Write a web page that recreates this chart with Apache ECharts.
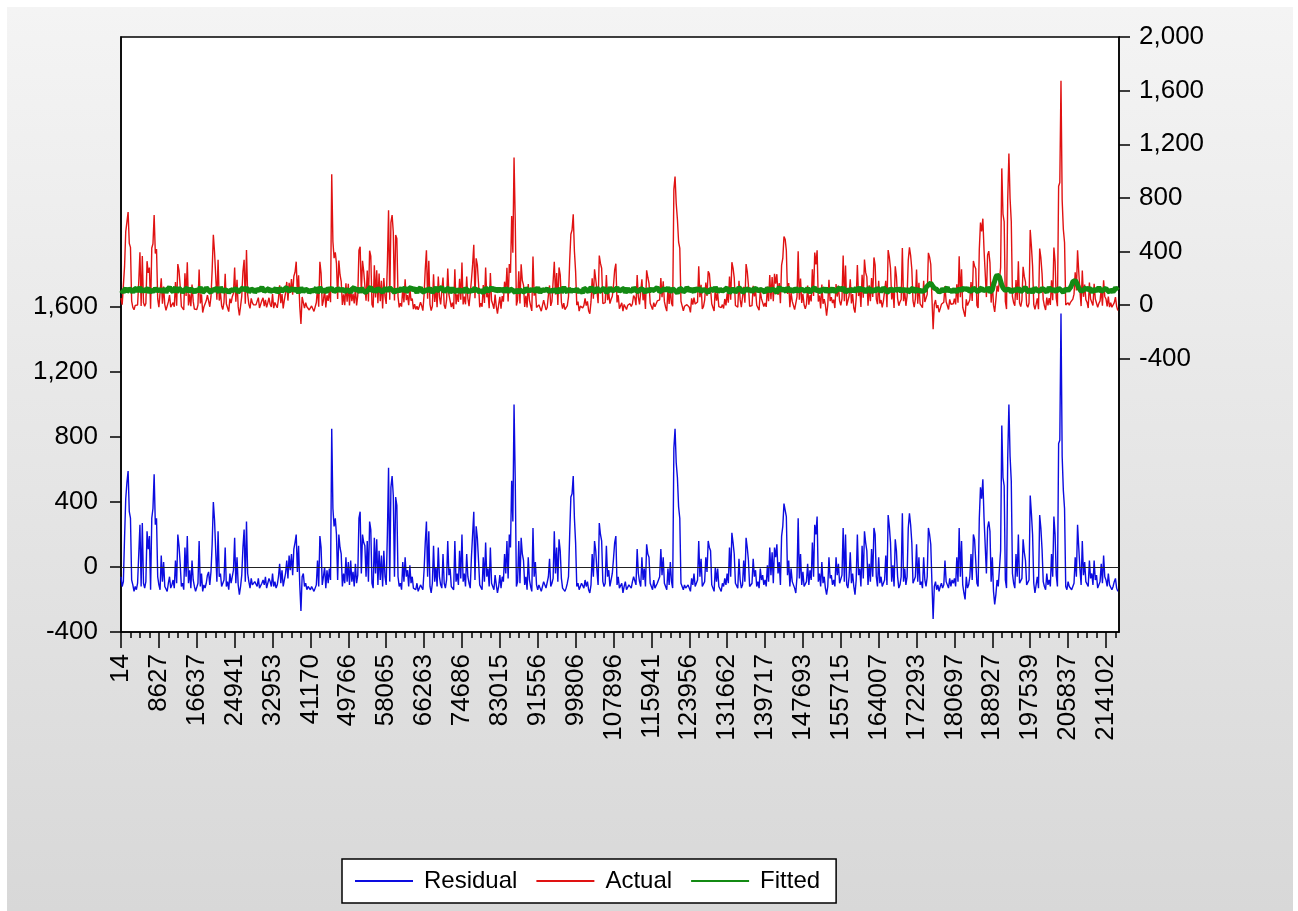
<!DOCTYPE html>
<html>
<head>
<meta charset="utf-8">
<script src="https://cdn.jsdelivr.net/npm/echarts@6/dist/echarts.min.js"></script>
<style>
  html, body { margin: 0; padding: 0; background: #ffffff; }
  #frame { position: absolute; left: 7px; top: 7px; width: 1286px; height: 904px;
           background: linear-gradient(#f4f4f4, #d8d8d8); }
  #chart { position: absolute; left: 0; top: 0; width: 1298px; height: 911px; }
</style>
</head>
<body>
<div id="frame"></div>
<div id="chart"></div>
<script>
// Observation numbers printed under the labelled ticks
const obsLabels = ['14','8627','16637','24941','32953','41170','49766','58065','66263',
  '74686','83015','91556','99806','107896','115941','123956','131662','139717','147693',
  '155715','164007','172293','180697','188927','197539','205837','214102'];

// Residuals (left scale), 32 plotted observations per labelled tick
const residual = [
  -60,-120,-90,180,420,520,590,340,300,-80,-110,-150,-120,-140,-100,80,260,-120,270,-100,-130,-90,220,110,190,-140,300,360,570,260,300,-60,
  -110,-140,70,-90,30,-120,-130,-150,-100,-60,-130,-110,-80,-130,40,-100,200,130,20,-120,-100,-140,120,-60,190,-100,-20,-130,40,-80,-120,-150,
  -160,-100,160,-120,-40,-150,-110,-130,-100,-50,-30,-110,-30,140,400,290,300,-90,220,-60,-40,-120,-130,-80,120,-120,-90,-140,-40,-100,-60,-20,
  180,-100,60,-110,-170,-120,-50,120,230,-90,280,-40,-90,-130,-70,-110,-110,-90,-90,-120,-70,-130,-120,-100,-80,-110,-60,-130,-100,-70,-90,-120,
  -40,-120,-90,-130,-110,-60,20,-100,-20,-120,-80,-40,40,-70,70,-20,80,-50,110,150,200,-30,130,-110,-270,-60,-40,-120,-100,-140,-120,-130,
  -140,-120,-130,-150,-150,-110,40,-120,190,120,-110,-60,0,-130,-20,-100,-10,-80,850,360,250,300,200,-80,200,120,80,-120,-40,-100,60,-90,
  30,-110,40,-90,-30,-120,20,-100,-50,300,340,-40,200,150,130,-60,160,-90,280,230,-100,-130,180,-40,170,-110,100,-80,70,-120,100,-60,
  -110,200,610,-90,490,560,440,-60,430,380,-60,-120,-100,-140,30,-90,60,-60,-20,-120,10,-100,-60,-130,-120,-140,-100,-150,-130,-110,-110,-140,
  -20,150,280,-60,220,-120,-160,-100,130,-90,0,-120,120,-60,-110,-130,80,-100,-130,-80,160,-50,-10,-120,-110,-140,160,-90,-40,-110,100,-70,
  200,-90,-40,-120,80,-60,-100,-130,60,200,340,-80,250,180,40,-110,-100,-140,60,-90,150,-60,-10,-120,120,-100,-100,-140,-50,-110,-160,-120,
  -50,-130,-60,-90,80,-40,160,-70,200,120,530,280,1000,540,-120,-90,160,-100,180,80,40,-110,-60,-140,60,-80,-120,-150,240,-60,30,-110,
  -140,-110,-100,-150,-120,-90,-80,-130,-140,-60,50,-120,-100,-70,220,-40,120,-90,170,100,-70,-130,-120,-150,-130,-100,-60,200,430,450,560,300,
  150,-120,-100,-140,-120,-100,-110,-130,-80,-120,-90,-140,-160,-110,80,-60,160,100,-20,-110,270,200,160,-90,-120,-100,130,-60,-20,-120,-80,-40,
  50,150,190,-110,-60,-130,-140,-100,-160,-120,-90,-140,-130,-110,-100,-130,-90,-60,-70,-110,110,-40,-90,-120,60,-80,-10,-120,140,80,60,-100,
  -120,-140,-80,-130,-120,-100,-100,-60,110,-50,60,-100,-120,-140,-10,-110,30,-90,-130,730,850,640,550,370,300,-100,-120,-140,-110,-130,-130,-110,
  -120,-150,-70,-110,-40,-120,-110,-80,160,-60,50,-120,-130,-90,60,-30,160,120,100,-110,-130,-150,0,-90,-10,-120,-130,-150,-100,-120,-70,-110,
  -40,-100,120,-60,210,150,80,-100,-90,-130,50,-80,-130,-110,40,-90,180,120,40,-120,-120,-100,50,-60,-20,-120,-90,-130,-10,-80,-50,-110,
  -80,-120,10,-90,120,-50,90,-100,120,60,140,-40,30,-110,190,250,390,380,310,-50,40,-120,-10,-90,-80,-130,-160,-60,300,-70,80,-110,
  -30,-120,-130,-90,20,-110,-20,-80,150,-60,260,200,310,-90,-40,-120,30,-100,-60,-130,-170,-120,60,-70,-50,-110,-80,-120,60,-50,20,-100,
  -110,-50,240,-90,200,-110,-130,-60,90,-100,-40,-120,-170,-80,200,-50,-10,-120,130,-70,220,150,100,-110,20,-90,110,-60,240,200,-60,-120,
  60,-100,-60,-120,-100,-80,70,-110,320,250,150,-90,10,-120,170,100,-60,-130,-110,-60,330,-90,-10,-110,-60,240,330,260,150,-100,-110,-60,
  140,-90,60,-110,-90,-130,60,-80,-120,-60,240,200,140,-100,-320,-120,-90,-140,-110,-150,-120,-100,-130,-110,40,-90,-110,-130,-70,-120,-80,-100,
  -70,-120,60,-90,240,-60,160,-110,-160,-200,-60,-130,-110,-60,80,-80,200,170,160,-100,-120,300,490,420,540,300,290,-40,240,280,220,-90,
  60,-150,-230,-170,-80,-120,-110,100,870,550,500,-80,-130,670,1000,680,530,-40,-100,-130,80,-60,200,-100,-110,-70,170,90,40,-110,-120,-80,
  440,330,200,-100,-160,-110,-60,-130,320,240,110,-90,-120,-140,-40,-110,-80,-120,80,-60,310,200,-50,-120,760,780,1560,680,470,360,-120,-140,
  -90,-120,-110,-140,-130,-100,60,-60,260,120,-10,-110,160,-50,30,-90,-90,-120,40,-70,-40,-110,40,-80,-50,-130,-120,-90,20,-100,70,-60,
  -80,-120,-40,-110,-100,-140,-120,-90,-70,-130,-150
];

// Fitted values (right scale)
const fitted = [
  112,124,96,107,128,99,104,121,131,110,93,116,118,127,101,94,134,113,97,120,122,103,108,130,90,114,126,98,103,125,119,106,
  95,117,130,100,109,124,92,113,124,135,115,102,99,118,133,96,106,127,121,111,94,104,117,129,129,97,100,122,113,108,91,119,
  127,101,105,133,120,95,96,112,132,125,110,98,93,121,125,107,102,130,118,94,136,116,98,103,114,128,107,92,89,115,123,109,
  101,126,129,97,94,113,116,131,108,100,131,119,97,106,120,127,112,95,92,118,126,109,104,134,135,102,99,114,117,125,95,107,
  122,98,110,129,90,107,128,115,103,96,119,132,133,104,96,111,114,127,106,95,124,117,93,101,130,121,101,97,118,128,109,94,
  97,114,125,103,113,130,91,108,134,119,105,96,121,112,94,131,116,102,127,114,100,93,111,126,132,107,98,121,120,100,103,115,
  129,108,92,119,115,133,107,97,123,110,96,128,131,104,110,93,99,118,126,135,104,113,118,98,90,124,135,109,112,96,102,127,
  119,106,98,130,128,112,106,94,93,117,124,103,114,129,101,111,133,97,95,120,117,134,109,100,127,108,91,115,122,131,105,99,
  96,118,130,107,111,126,120,93,100,114,135,104,94,122,116,133,125,99,103,117,113,128,92,105,129,112,108,96,121,134,97,110,
  118,95,104,126,133,109,93,115,126,102,110,131,99,120,123,94,115,128,90,106,131,119,102,97,120,135,107,113,128,100,96,124,
  112,103,127,116,95,129,119,98,106,121,134,110,101,94,117,127,92,113,125,104,109,96,130,122,98,118,114,107,123,131,100,93,
  131,112,94,105,116,127,108,95,122,133,97,114,128,101,103,119,119,92,111,126,93,104,135,117,105,96,124,130,99,110,117,102,
  102,120,126,95,113,107,90,128,130,116,118,99,96,134,121,108,107,93,133,124,100,111,115,102,127,119,94,97,110,131,123,106,
  98,113,119,130,134,103,104,117,116,125,92,107,129,96,111,120,101,132,125,110,114,99,95,123,132,116,106,92,120,128,103,114,
  124,107,99,118,112,131,128,100,93,110,117,126,106,95,131,119,97,104,122,133,109,116,90,101,126,129,115,97,102,112,134,120,
  105,96,121,113,96,128,114,104,130,119,101,92,118,127,108,99,92,113,127,120,113,106,135,124,99,109,120,132,104,95,116,108,
  129,118,93,101,110,126,123,97,100,115,132,121,115,94,97,108,126,130,107,112,119,96,94,125,131,119,103,93,117,128,111,100,
  96,107,128,119,104,94,120,130,113,101,91,116,134,125,109,98,122,112,98,133,125,104,106,118,116,97,130,121,101,110,119,127,
  115,123,102,96,127,113,94,108,118,129,133,104,99,117,112,95,124,110,105,131,92,119,129,100,110,126,121,98,97,114,126,132,
  108,97,131,120,95,106,117,128,103,112,123,99,114,130,100,118,135,107,96,125,120,94,111,105,128,119,93,121,116,101,106,127,
  122,113,98,104,130,118,112,95,91,108,125,132,104,99,119,114,109,126,133,102,97,120,114,105,127,96,101,110,118,131,95,107,
  126,100,107,119,93,111,121,104,132,140,150,158,165,150,140,126,128,118,110,97,94,106,123,131,102,115,135,98,113,127,100,110,
  119,125,96,108,124,119,108,94,131,113,103,127,117,100,92,111,129,122,112,98,98,117,126,130,105,111,120,100,134,123,97,109,
  114,150,180,210,225,220,210,180,150,129,123,108,101,119,130,114,95,103,118,126,107,99,127,115,99,108,116,124,133,112,104,96,
  121,110,93,105,128,117,110,99,102,114,125,131,115,104,96,109,132,121,106,97,119,127,100,112,127,135,113,102,94,107,122,128,
  108,119,131,150,175,182,185,170,150,129,117,103,99,112,124,131,112,98,129,116,95,107,120,126,105,114,133,122,101,96,116,125,
  126,111,103,95,118,124,97,109,130,121,110
];

// Actual = fitted + residual
const actual = residual.map((r, i) => r + fitted[i]);

const leftTickValues = [-400, 0, 400, 800, 1200, 1600];
const rightTickValues = [-400, 0, 400, 800, 1200, 1600, 2000];

const STEP = 32;       // observations between labelled ticks
const X_MAX = 843;

const majorTicks = obsLabels.map((_, j) => j * STEP);
const minorTicks = [];
for (let v = 0; v <= X_MAX; v += STEP / 4) minorTicks.push(v);

const pairs = arr => arr.map((v, i) => [i, v]);
const fmt = v => Number(v).toLocaleString('en-US');
const FONT = "'Liberation Sans', Arial, sans-serif";
const AXIS_FONT = 26;

const chart = echarts.init(document.getElementById('chart'), null, { renderer: 'canvas' });

chart.setOption({
  animation: false,
  backgroundColor: 'transparent',
  textStyle: { fontFamily: FONT },
  grid: {
    left: 121, right: 179, top: 37, bottom: 279,
    show: true, backgroundColor: '#ffffff', borderColor: '#000000', borderWidth: 1.5
  },
  legend: {
    left: 342, top: 859,
    backgroundColor: '#ffffff', borderColor: '#000000', borderWidth: 1.5,
    padding: [10, 16, 10, 13],
    itemGap: 19, itemWidth: 58, itemHeight: 2, icon: 'rect',
    textStyle: { fontSize: 24, color: '#000000', fontFamily: FONT, padding: [0, 0, 0, 6] },
    data: ['Residual', 'Actual', 'Fitted']
  },
  xAxis: [
    {
      type: 'value', min: 0, max: X_MAX, position: 'bottom',
      axisLine: { show: true, onZero: false, lineStyle: { color: '#000000', width: 1.5 } },
      axisTick: { show: true, length: 16, customValues: majorTicks, lineStyle: { color: '#000000', width: 1.5 } },
      axisLabel: {
        customValues: majorTicks, rotate: 90, margin: 22,
        fontSize: AXIS_FONT, color: '#000000', fontFamily: FONT,
        formatter: v => obsLabels[Math.round(v / STEP)]
      },
      splitLine: { show: false }
    },
    {
      type: 'value', min: 0, max: X_MAX, position: 'bottom',
      axisLine: { show: false, onZero: false },
      axisTick: { show: true, length: 6, customValues: minorTicks, lineStyle: { color: '#000000', width: 1.5 } },
      axisLabel: { show: false },
      splitLine: { show: false }
    }
  ],
  yAxis: [
    {
      type: 'value', min: -400, max: 3261, position: 'left',
      axisLine: { show: true, onZero: false, lineStyle: { color: '#000000', width: 1.5 } },
      axisTick: { show: true, length: 11, customValues: leftTickValues, lineStyle: { color: '#000000', width: 1.5 } },
      axisLabel: { customValues: leftTickValues, margin: 23, fontSize: AXIS_FONT, color: '#000000', fontFamily: FONT, formatter: fmt },
      splitLine: { show: false }
    },
    {
      type: 'value', min: -2438, max: 2000, position: 'right',
      axisLine: { show: true, onZero: false, lineStyle: { color: '#000000', width: 1.5 } },
      axisTick: { show: true, length: 11, customValues: rightTickValues, lineStyle: { color: '#000000', width: 1.5 } },
      axisLabel: { customValues: rightTickValues, margin: 20, fontSize: AXIS_FONT, color: '#000000', fontFamily: FONT, formatter: fmt },
      splitLine: { show: false }
    }
  ],
  series: [
    {
      name: 'Residual', type: 'line', xAxisIndex: 0, yAxisIndex: 0,
      data: pairs(residual), symbol: 'none', color: '#0c0ce0',
      lineStyle: { color: '#0c0ce0', width: 1.4 },
      markLine: {
        silent: true, symbol: ['none', 'none'], label: { show: false },
        lineStyle: { color: '#222222', width: 1.2, type: 'solid' },
        data: [{ yAxis: 0 }]
      }
    },
    {
      name: 'Actual', type: 'line', xAxisIndex: 0, yAxisIndex: 1,
      data: pairs(actual), symbol: 'none', color: '#e01212',
      lineStyle: { color: '#e01212', width: 1.4 }
    },
    {
      name: 'Fitted', type: 'line', xAxisIndex: 0, yAxisIndex: 1,
      data: pairs(fitted), symbol: 'none', color: '#138a13',
      lineStyle: { color: '#138a13', width: 5 }
    }
  ]
});
</script>
</body>
</html>
